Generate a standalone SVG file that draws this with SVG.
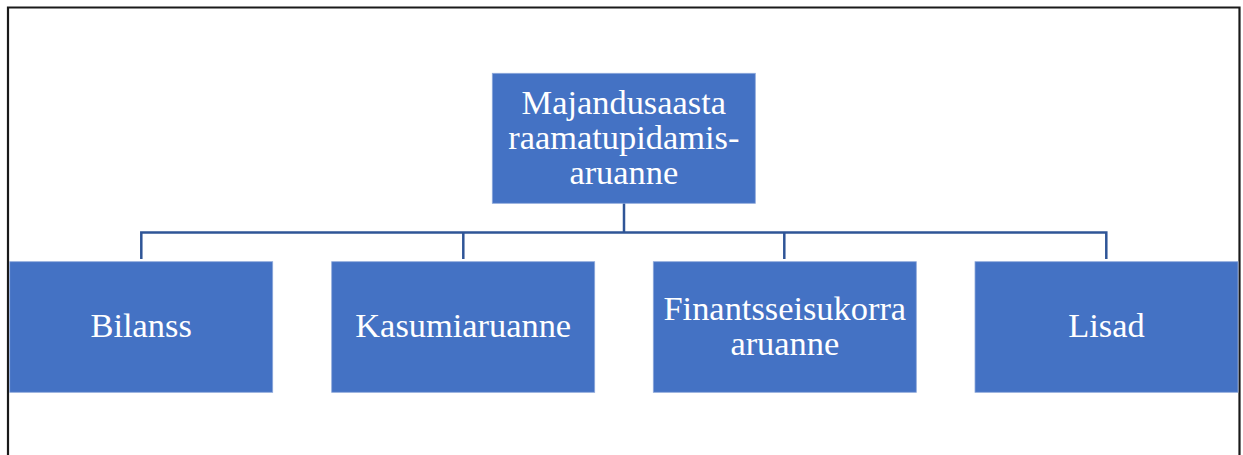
<svg xmlns="http://www.w3.org/2000/svg" width="1243" height="455" viewBox="0 0 1243 455">
<style>
.box{fill:#4472C4;stroke:#8EA9DB;stroke-width:0.8}
.t{font-family:"Liberation Serif","Times New Roman",serif;font-size:34.4px;fill:#FFFFFF;text-anchor:middle}
.c{fill:none;stroke:#2F5597;stroke-width:2.5}
</style>
<rect x="0" y="0" width="1243" height="455" fill="#FFFFFF"/>
<path d="M8 455 V7.5 H1239.5 V455" fill="none" stroke="#1a1a1a" stroke-width="2.2"/>
<g id="connectors">
<path class="c" d="M624 203 V232.5"/>
<path class="c" d="M141.3 259 V232.5 H1106.3 V259"/>
<path class="c" d="M463.3 232.5 V259"/>
<path class="c" d="M784.3 232.5 V259"/>
</g>
<g id="root">
<rect class="box" x="492.3" y="73.3" width="263" height="130"/>
<text class="t" x="623.8" y="113.5">Majandusaasta</text>
<text class="t" x="623.8" y="148.5">raamatupidamis-</text>
<text class="t" x="623.8" y="183.5">aruanne</text>
</g>
<g id="bilanss">
<rect class="box" x="9.7" y="261.7" width="263" height="130.6"/>
<text class="t" x="141.2" y="337">Bilanss</text>
</g>
<g id="kasumiaruanne">
<rect class="box" x="331.7" y="261.7" width="263" height="130.6"/>
<text class="t" x="463.2" y="337">Kasumiaruanne</text>
</g>
<g id="finantsseisukorra">
<rect class="box" x="653.3" y="261.7" width="263" height="130.6"/>
<text class="t" x="784.8" y="320">Finantsseisukorra</text>
<text class="t" x="784.8" y="355">aruanne</text>
</g>
<g id="lisad">
<rect class="box" x="975" y="261.7" width="263" height="130.6"/>
<text class="t" x="1106.5" y="337">Lisad</text>
</g>
</svg>
